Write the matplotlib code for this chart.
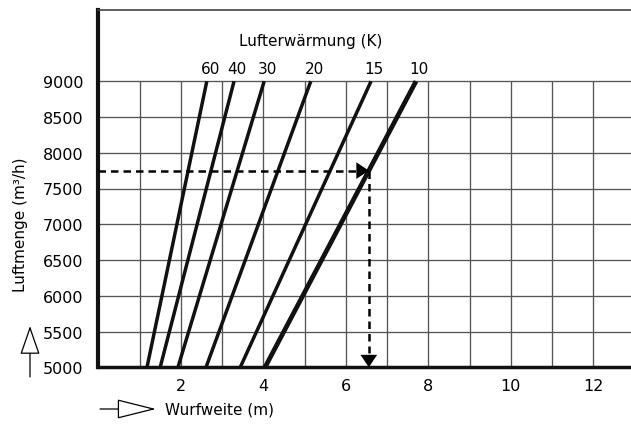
import matplotlib
matplotlib.use("Agg")
import matplotlib.pyplot as plt
import numpy as np

plt.rcParams['font.family'] = ['DejaVu Sans']

# ---- data ----
temp_labels = ['60', '40', '30', '20', '15', '10']          # Lufterwärmung (K)
throw_at_5000 = [1.18, 1.50, 1.93, 2.61, 3.44, 4.04]        # Wurfweite (m) at 5000 m³/h
throw_at_9000 = [2.63, 3.29, 4.02, 5.15, 6.61, 7.70]        # Wurfweite (m) at 9000 m³/h
airflow_ends = [5000, 9000]
y_ticks = [5000, 5500, 6000, 6500, 7000, 7500, 8000, 8500, 9000]
x_grid = [1, 2, 3, 4, 5, 6, 7, 8, 9, 10, 11, 12]
x_tick_labels = [2, 4, 6, 8, 10, 12]
example_airflow = 7750
example_curve = '10'

W, H = 631, 427
fig = plt.figure(figsize=(W / 100, H / 100), dpi=100)
left = 98.3 / W
bottom = (H - 368.3) / H
top = (H - 10.7) / H
ax = fig.add_axes([left, bottom, 1 - left, top - bottom])
ax.set_xlim(0, 12.91)
ax.set_ylim(5000, 10000)

# grid (only inside 5000..9000)
ax.hlines(y_ticks[1:], 0, 1, transform=ax.get_yaxis_transform(),
          colors='#555555', lw=0.95, zorder=1)
ax.vlines(x_grid, airflow_ends[0], airflow_ends[1], colors='#555555', lw=0.95, zorder=1)

# curves
for lab, x0, x1 in zip(temp_labels, throw_at_5000, throw_at_9000):
    lw = 3.4 if lab == '10' else 2.5
    ax.plot([x0, x1], airflow_ends, color='#111111', lw=lw, solid_capstyle='butt', zorder=3)
    ax.text(x1 + 0.08, 9180, lab, ha='center', va='center', fontsize=11)

ax.text(5.15, 9570, 'Lufterwärmung (K)', ha='center', va='center', fontsize=11)

# example reading
idx = temp_labels.index(example_curve)
ex_x = np.interp(example_airflow, airflow_ends, [throw_at_5000[idx], throw_at_9000[idx]])
ax.plot([0, ex_x - 0.2], [example_airflow, example_airflow], color='black', lw=1.8,
        dashes=(3, 2), zorder=4)
ax.annotate('', xy=(ex_x, example_airflow), xytext=(ex_x - 0.25, example_airflow),
            arrowprops=dict(arrowstyle='-|>,head_length=0.45,head_width=0.3',
                            mutation_scale=20, color='black', lw=0, shrinkA=0, shrinkB=0),
            zorder=5)
ax.plot([ex_x, ex_x], [example_airflow, 5000 + 200], color='black', lw=1.8,
        dashes=(3, 2), zorder=4)
ax.annotate('', xy=(ex_x, 5000), xytext=(ex_x, 5250),
            arrowprops=dict(arrowstyle='-|>,head_length=0.45,head_width=0.3',
                            mutation_scale=20, color='black', lw=0, shrinkA=0, shrinkB=0),
            zorder=5)

# spines
for s in ['right']:
    ax.spines[s].set_visible(False)
ax.spines['left'].set_linewidth(3.0)
ax.spines['left'].set_color('#111111')
ax.spines['bottom'].set_linewidth(2.5)
ax.spines['bottom'].set_color('#111111')
ax.spines['top'].set_linewidth(1.2)
ax.spines['top'].set_color('#444444')

ax.set_yticks(y_ticks)
ax.set_yticklabels([str(v) for v in y_ticks])
ax.set_xticks(x_tick_labels)
ax.set_xticklabels([str(v) for v in x_tick_labels])
ax.tick_params(axis='y', length=0, pad=11, labelsize=11.5)
ax.tick_params(axis='x', length=0, pad=8, labelsize=11.5)

# axis labels with open arrows
fig.text(21 / W, 1 - 225 / H, 'Luftmenge (m³/h)', rotation=90, ha='center', va='center',
         fontsize=11)
fig.text(165 / W, 1 - 410 / H, 'Wurfweite (m)', ha='left', va='center', fontsize=11)
fig.patches.append(matplotlib.patches.FancyArrowPatch(
    (30 / W, 1 - 378 / H), (30 / W, 1 - 327 / H), transform=fig.transFigure,
    arrowstyle='-|>,head_length=1.3,head_width=0.45', mutation_scale=14,
    fc='white', ec='black', lw=0.9, shrinkA=0, shrinkB=0))
fig.patches.append(matplotlib.patches.FancyArrowPatch(
    (100 / W, 1 - 410 / H), (156 / W, 1 - 410 / H), transform=fig.transFigure,
    arrowstyle='-|>,head_length=1.8,head_width=0.45', mutation_scale=14,
    fc='white', ec='black', lw=0.9, shrinkA=0, shrinkB=0))

fig.savefig('out.png', dpi=100)
